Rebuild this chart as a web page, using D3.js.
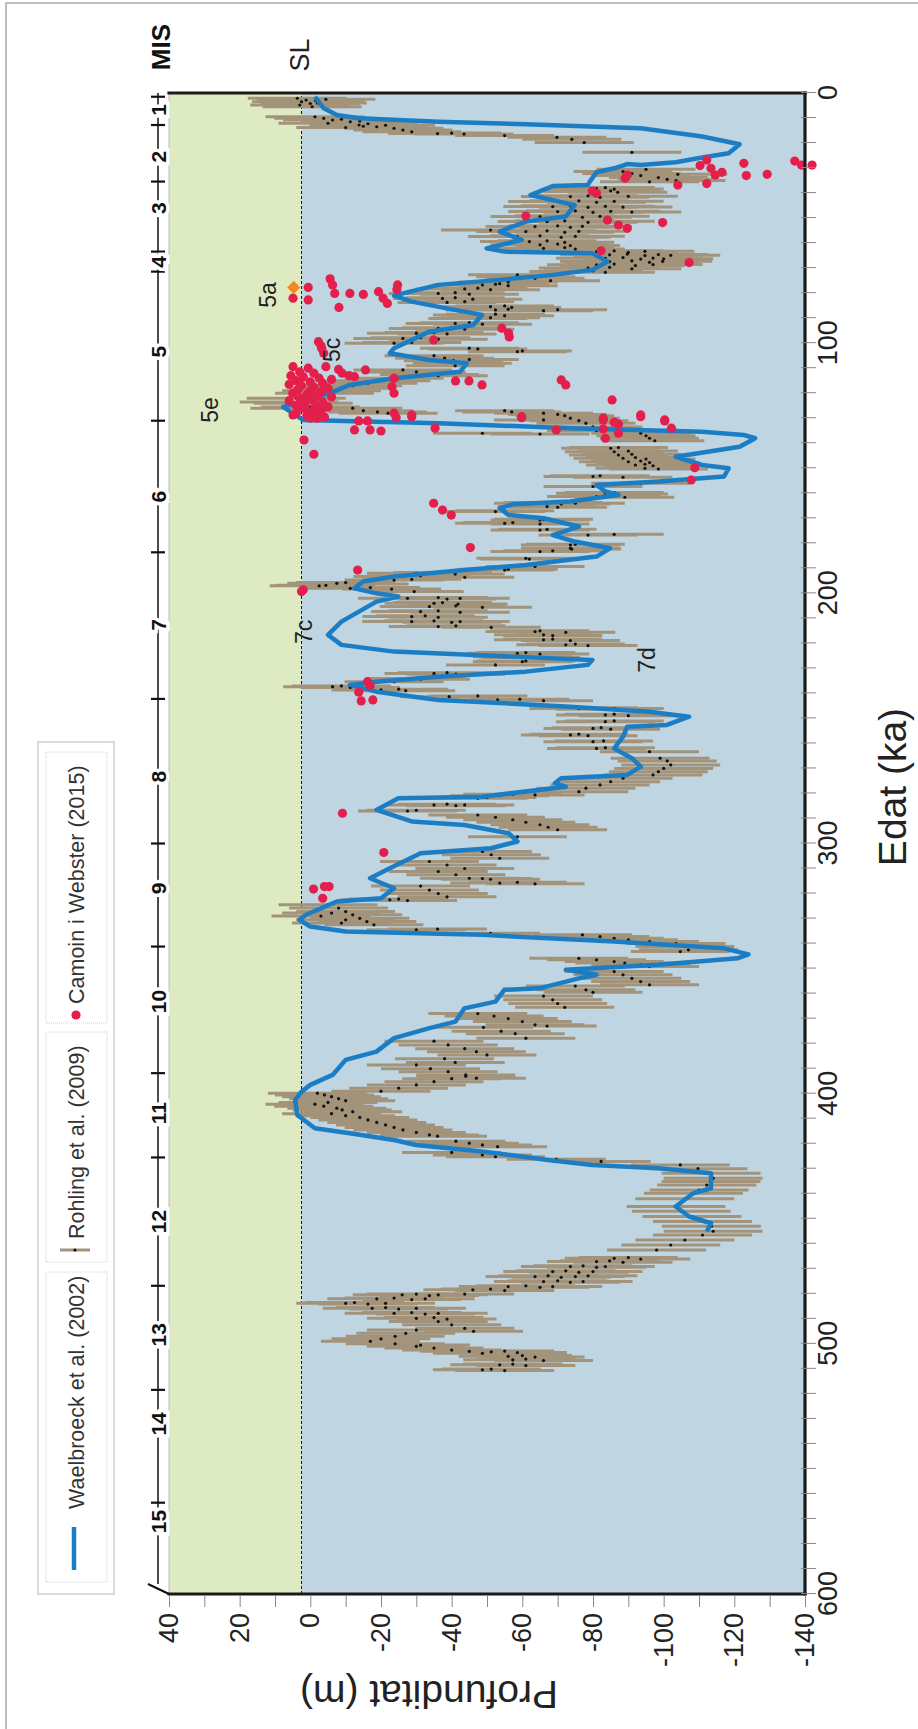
<!DOCTYPE html>
<html>
<head>
<meta charset="utf-8">
<script src="https://cdn.jsdelivr.net/npm/d3@7"></script>
<style>
  body { margin: 0; background: #fff; }
  text { font-family: "Liberation Sans", Arial, sans-serif; }
</style>
</head>
<body>
<svg id="chart"></svg>
<script>
// Waelbroeck et al. (2002) sea-level curve: [age ka, depth m]
const waelbroeck = [
  [1.5,-1.3],[6.1,-3.8],[8.8,-7.5],[10.1,-13.7],[11.5,-36.2],[12.5,-61],[14.1,-93.5],[17.4,-110.9],[20.5,-121.5],
  [24.1,-118.4],[25.8,-110.9],[27.7,-103.4],[28.8,-93.5],[28.4,-89.7],[30.1,-86],[31.7,-81],[35.4,-79.1],[36.8,-78.5],
  [37.2,-68.6],[40.8,-62.3],[42.8,-68.6],[44.8,-74.8],[49.4,-72.3],[51.4,-61],[55.4,-53.6],[58.7,-59.8],[62.1,-49.9],
  [63.4,-54.9],[64.1,-79.8],[67.4,-84.1],[70.7,-79.8],[72.7,-68.6],[74.7,-53.6],[76.7,-36.2],[80.1,-26.2],[81,-23.7],
  [83.4,-28.7],[86.1,-38.6],[88.7,-48.6],[92.7,-46.1],[95.4,-33.7],[102,-23.7],[104,-22.5],[106.7,-33.7],[108,-44.3],
  [111.4,-42.4],[114,-23.7],[116.7,-11.2],[120,-5.6],[125.5,7.7],[130.7,2.1],[132,-36.2],[134,-73.5],[135.4,-110.9],
  [136.7,-122.7],[138,-125.9],[141.4,-121.5],[145.4,-103.4],[148.7,-110.9],[150,-118.4],[153.3,-117.1],[155.3,-98.5],
  [156.7,-81],[159.3,-83.5],[160.7,-87.2],[163.3,-73.5],[164.4,-57.3],[166,-53.6],[168.7,-56.1],[170,-66.1],[173.3,-76],
  [176.7,-68.6],[179.3,-74.8],[182,-84.8],[185.3,-81],[188.7,-61],[190.7,-43.6],[193.3,-23.7],[195.3,-15],[198,-12.5],
  [200,-18.7],[201.3,-24.9],[203.3,-18.7],[211.3,-8.8],[216.6,-5],[220.6,-8.8],[223.3,-23.7],[225.3,-57.3],[226.6,-79.8],
  [228.6,-78.5],[231.3,-61],[233.3,-36.2],[235.3,-18.7],[236.6,-11.2],[239.3,-18.7],[242.6,-36.2],[245.3,-73.5],
  [247.3,-95.9],[249.3,-107.2],[252.6,-100.9],[253.3,-89.7],[257.3,-88.5],[262,-86],[265.9,-91],[269.3,-93.5],
  [272.6,-89.7],[273.9,-71],[275.9,-69.2],[277.3,-72.3],[281.3,-48.6],[281.9,-24.9],[286.6,-18.7],[291.2,-28.7],
  [292.6,-43.6],[295.9,-56.1],[299.2,-58.6],[301.9,-51.1],[303.9,-31.2],[309.9,-22.5],[313.9,-16.9],[317.9,-23.7],
  [321.9,-20],[323.2,-7.5],[328.5,1.2],[330.5,3.1],[333.2,0],[335.2,-10],[336.5,-48.6],[339.2,-86],[341.9,-117.1],
  [344.3,-124],[345.9,-120.9],[348.5,-98.5],[350.5,-72.3],[352.5,-81],[353.9,-76],[357.9,-64.8],[358.5,-54.9],
  [363.2,-52.4],[365.9,-43.6],[371.2,-41.1],[373.8,-33.7],[377.8,-23.7],[383.2,-18.7],[386.5,-10],[392.5,-6.3],
  [396.5,0],[399.2,2.5],[402.5,4.3],[408.5,3.7],[413.8,-1.3],[415.8,-11.2],[418.5,-23.7],[420.5,-29.9],[423.1,-48.6],
  [426.5,-67.3],[428.5,-79.8],[429.8,-98.5],[431.8,-113.4],[437.8,-113.4],[439.8,-108.4],[445.1,-103.4],[449.1,-107.2],
  [451.8,-113.4],[455.1,-112.2]
];

// Rohling et al. (2009) points: [age ka, depth m], drawn with +/- error bars
const rohling = [
  [2.1,3.7],[2.8,1.2],[3.5,2.5],[4.2,0],[4.8,3],[3.0,-1.5],[5.5,-0.5],[2.5,-4.4],[4.0,-2],
  [9.5,-1.3],[10.1,-3.8],[10.8,-6.3],[10.5,-8.8],[11.5,-11.3],[12.1,-5],[12.8,-13.8],[12.3,-16.3],[13.5,-18.8],
  [12.9,-21.3],[13.3,-15],[14.1,-23.7],[14.8,-26.2],[13.8,-10],[11.2,-14],
  [15.5,-28.7],[16.2,-36],[16,-40],[16.4,-43.5],[17,-55],[17.7,-69.8],[18.5,-74],[19.8,-77.5],[23.7,-91],
  [31.4,-88.5],[32.2,-91],[33,-93.5],[33.8,-98.5],[34.5,-101],[35,-103.5],[32.5,-104],[35.5,-96],[30.5,-95],
  [38.2,-81],[37.8,-83.5],[38.4,-86],[39.4,-80],[39.1,-85],[39.7,-87],[41.4,-73.6],[41.1,-78.6],[41.7,-82],[41.3,-90],
  [43.4,-70],[43.1,-76],[43.7,-81],[43.3,-86],[45.4,-68.6],[45.1,-73.6],[45.7,-78.6],[45.3,-83.5],[45.6,-88.5],
  [47.4,-70],[47.1,-75],[47.7,-80],[47.3,-85],[47.6,-91],[49.4,-65],[49.1,-72],[49.7,-77],[49.3,-82],
  [51.4,-67],[51.1,-72],[51.7,-78.6],[51.3,-83.5],[53.4,-63.6],[53.1,-70],[53.7,-73.6],[53.3,-77],
  [55.4,-61],[55.1,-67],[55.7,-72],[55.3,-76],[57.4,-58.6],[57.1,-65],[57.7,-71],[57.3,-75],
  [59.4,-62],[59.1,-67],[59.7,-72],[60.7,-65],[60.4,-70],[61,-73.6],[62.1,-66],[61.8,-72],[62.4,-75],[54.8,-51],
  [63.4,-81],[63.1,-86],[63.7,-90],[63.3,-94.7],[64.7,-84.7],[64.4,-89.7],[65,-94.7],[64.6,-98.5],[64.9,-102],
  [66.1,-83.5],[65.8,-88.5],[66.4,-93.5],[66,-97],[66.3,-100],[67.4,-84.7],[67.1,-91],[67.7,-96],[67.3,-99.7],
  [68.7,-81],[68.4,-86],[69,-92],[68.6,-97],[70,-78.6],[69.7,-84.7],[70.3,-91],[71.4,-76],[71.1,-80],[71.7,-83.5],
  [72.7,-58.6],[73.5,-61],[74.1,-63.6],[75,-68],[75.5,-56],[76.2,-53.6],
  [76.7,-48.7],[76.4,-52.4],[77,-56],[78.3,-43.7],[78,-47.4],[78.6,-51],[80.1,-36.2],[79.8,-41],[80.4,-45],
  [82.1,-37.4],[81.8,-41],[82.4,-46],[83.7,-38.7],[83.4,-43.7],[85.4,-51],[85.1,-55],[85.7,-57],
  [86.7,-52.4],[86.4,-56],[87,-66],[86.6,-70],[88.7,-48.7],[88.4,-52.4],[89,-55],[90.1,-47.4],[89.8,-51],
  [92.1,-41],[91.8,-45],[92.4,-48.7],[94.1,-36.2],[93.8,-40],[94.4,-43.7],[96,-30],[95.7,-35],[96.3,-38.7],
  [98.1,-26.2],[97.8,-31.2],[98.4,-36.2],[100,-23.7],[99.7,-28.7],[102,-45],[102.3,-47.4],[103.4,-58.6],[103.1,-60],
  [105,-35],[106,-38],[107,-40.5],[108,-43],[109,-41],[106.5,-45],
  [110.7,-26.2],[111.5,-30],[112.5,-33.7],[113,-36.2],
  [114,-23.7],[115,-20],[116,-16.3],[117,-12],[118,-9],[119,-6],[120,-4],
  [122,4],[123.5,6],[124,2],[125.5,0],[126,3],
  [126,-12],[127,-15],[127.5,-19],[128,-22],[127,-55],[127.5,-57],[128,-66],[128.5,-70],[129,-72],
  [130,-73.6],[131,-76],[132,-78],[133.5,-80],[135,-81],[136,-48.7],[136.3,-65],[130.7,-66],
  [136,-93.5],[137,-95],[138,-96],[139,-97.5],
  [142,-85],[141.7,-87.2],[143.4,-86],[143.1,-90],[144.7,-87.2],[144.4,-91],[146,-88.5],[145.7,-92],[146.3,-95],
  [147.4,-90],[147.1,-93.5],[147.7,-96],[148.7,-92],[148.4,-94.7],[149,-97],[150,-94.7],[150.3,-98.5],
  [153.3,-80],[153,-82],[153.6,-88.5],[156,-93.5],[157.3,-80],[160,-83.5],[159.7,-86],[160.3,-87.2],[161.3,-81],[161,-85],[161.6,-89],
  [164,-66],[163.7,-68.6],[164.3,-71],[164,-75],[165.3,-67],[165.6,-70],[167.3,-52.4],[167,-55],
  [170.7,-65],[170.4,-66],[172,-55],[171.7,-57.3],[172.3,-65],[174.7,-65],[174.4,-67],[176.7,-78.6],[176.4,-86],
  [180.7,-73.6],[180.4,-75],[182,-73.6],[182.3,-74],[183.3,-65],[183,-68.6],[186,-61],[186.3,-62],[189.3,-63.6],[190.7,-55],[190.4,-56],
  [192,-30],[191.7,-37.4],[192.3,-41],[193.3,-26.2],[193,-31.2],[193.6,-43.7],[194.7,-23.7],[194.4,-28.7],
  [196,-7.5],[195.7,-10],[196.3,-13.8],[197,-2.5],[196.8,-4.4],[198,-11.3],[197.7,-17],[198.3,-23],[199.3,-29.4],
  [202,-27.5],[201.7,-36.2],[202.3,-38.7],[202,-42.4],[204,-35],[203.7,-37.4],[204.3,-41.8],[205.3,-33.7],[205,-41.2],[205.6,-48.7],
  [207.3,-31.2],[207,-36.2],[207.6,-42.4],[209.3,-28.7],[209,-32.5],[209.6,-36.2],[211.3,-28.7],[211,-35],[211.6,-40],[211.3,-42.4],
  [213.3,-36.2],[213,-41.2],[213.6,-51.2],[215.3,-63.6],[215,-65],[215.6,-72.3],[216.6,-66],[216.9,-68.6],
  [218.6,-66],[218.3,-68.6],[218.9,-73.6],[220.6,-72.3],[220.3,-75],[220.9,-78.6],[224,-58.6],[223.7,-61],[224.3,-65],
  [225.3,-60],[225.6,-62.3],[227.3,-60],[227,-61],[228.6,-52.4],[232,-35],[231.7,-38.7],[232.3,-41.2],[234,-30],[234.3,-31.2],[235.3,-23.7],
  [237.3,-6.3],[237,-8.8],[237.6,-11.3],[238.6,-20],[238.3,-25],[238.9,-27],[241.3,-39.3],[241,-47.4],[242.6,-53],[242.3,-59.3],[242.9,-66],
  [246,-76],[245.7,-78.6],[246.3,-83.5],[246,-86],[248.6,-83.5],[248.3,-86],[248.9,-90],[251.3,-83.5],[251,-86],
  [254,-80],[253.7,-82.3],[254.3,-85],[256.6,-73.6],[256.3,-76],[256.9,-78.6],[259.3,-80],[259,-83],[262,-81],[261.7,-83.5],
  [263.3,-96],[265.9,-99],[267,-101],[268.6,-102],[270,-100],[271.3,-98.5],[272.6,-97],
  [273.9,-88.5],[275.3,-85],[276.6,-82],[277.9,-78],[279.3,-76],
  [280.6,-63.6],[280.3,-57.3],[280.9,-53.6],[281.9,-47.4],[281.6,-50],
  [284.6,-35],[284.3,-38.7],[284.9,-41.2],[284.6,-43.7],[287,-27.5],[286.7,-30],
  [288.6,-47.4],[289.5,-52.4],[290.5,-57.3],[291.5,-61],[292.5,-65],[293.5,-67.3],[294.5,-70],[297.3,-58.6],
  [303.2,-48.7],[304.5,-51.2],[305.9,-53.6],[307.2,-33.7],[308.6,-38.7],[310,-43.7],[311.2,-36.2],[312.5,-41.2],[313.9,-45],
  [314,-48.7],[314.3,-51],[315.8,-53.6],[315.5,-58.6],[316.1,-63.6],
  [317,-31.2],[318.6,-33.7],[320,-36.2],[321.3,-38.7],[322.5,-22.5],[322.2,-25],[322.8,-27.5],
  [324.5,-5],[325.8,-8],[327.2,-10],[328.5,-12],[329.9,-14],[331.2,-16],[332.5,-18],[330.5,-10],[327.8,-6],[329,-3],[331.8,-8.8],
  [334.5,-30],[334.2,-36],[335.9,-51],
  [336.5,-77],[337.2,-82],[337.9,-86],[338.5,-90],[339.2,-96],[340,-103.5],[341.2,-106],[342.5,-107],[343.2,-104.7],
  [345.9,-76],[346.5,-81],[347.2,-86],[347.8,-89],[348.5,-93.5],[349.2,-96],
  [351.2,-86],[352.5,-88.5],[353.9,-91],[355.2,-93.5],[356.5,-96],[357,-75],[358.5,-78],[359.5,-80],
  [361,-66],[362.5,-68.6],[364,-70],[365.5,-72],[368,-47.4],[369,-52],[370,-56],[371.2,-60],[372.5,-63.6],[373,-67],
  [373.5,-49],[375,-54],[376,-58],[377.8,-61],
  [379,-35],[380.5,-39],[382,-43.7],[383.2,-47],[384.5,-50],[386,-38],[387.5,-41],
  [388.5,-30],[390,-34],[391.2,-39],[392.5,-44],[393.8,-47],
  [393,-44],[394,-40],[395.2,-35],[396.5,-30],[397.8,-25],[399,-20],
  [399.8,-2],[400.5,-4],[401.2,-6],[402,-8],[402.8,-10],[403.5,-5],[404.2,-1.3],[405,-3.8],[405.8,-7.5],[406.5,-9],
  [407.2,-12],[408,-6],[408.8,-10],[409.5,-14],
  [410.5,-16.3],[411.5,-18.8],[412.5,-21.3],[413.5,-23.7],[414.5,-26.2],[415.5,-30],[416.5,-33.7],[417,-36],
  [419,-41.2],[419.8,-45],[420.5,-48.7],[421.2,-53],[423.5,-40],[424.5,-48.7],[425.2,-52.4],[426.2,-69.6],[427.1,-82.3],
  [428.5,-104.7],[430,-109.7],[431.8,-113.4],[433.8,-114],[435.1,-113.4],[436.5,-112.2],[438.5,-110],
  [439.8,-108.4],[442,-106],[445.1,-103.5],[447,-105],[449.1,-108],[451.1,-111],[453,-113.5],[455,-114],
  [456.5,-111],[458.5,-106],[460.5,-102],[462.5,-98],
  [465.8,-86],[465.5,-90],[466.1,-93.5],[467.1,-81],[466.8,-84.7],[467.4,-88.5],
  [469.1,-73.6],[468.8,-77.2],[469.4,-81],[469.1,-83.5],[471.1,-68.6],[470.8,-72.3],[471.4,-76],[471.1,-80],
  [473.1,-63.6],[472.8,-67.3],[473.4,-71],[473.1,-75],[472.8,-78.6],[475.1,-66],[474.8,-70],[475.4,-73.6],[475.1,-77.2],
  [477.1,-56],[476.8,-61],[477.4,-65],[477.1,-68.6],[478.4,-46],[478.1,-51],[478.7,-55],
  [480.4,-26],[480.1,-30],[480.7,-33.7],[480.4,-36.2],[480.1,-43.7],[482,-18.8],[481.7,-23.7],[482.3,-28.7],[482,-32.5],
  [483.8,-10],[483.5,-12.5],[484.1,-16.3],[483.8,-21.3],[485.8,-17.5],[485.5,-21.3],[486.1,-25],[485.8,-30],
  [487.8,-23.7],[487.5,-28.7],[488.1,-32.5],[487.8,-36.2],[489.8,-30],[489.5,-35],[490.1,-38.7],
  [491.1,-36.2],[492.4,-40],[493.8,-43.7],[495,-46.2],[494.5,-30],[495.8,-27],[497,-24],[498,-20],[499,-17],[500,-24],[501,-30],
  [500.5,-31.2],[501.7,-35],[502.5,-40],[503,-45],[503.8,-48.7],
  [503.2,-51.2],[502.9,-55],[503.5,-58.6],[505,-56],[504.7,-60],[505.3,-63.6],[506.4,-57.3],[506.1,-61],[506.7,-66],
  [508.4,-53.6],[508.1,-57.3],[508.7,-61],[510.4,-48.7],[510.1,-51.2],[510.7,-55]
];

// Camoin i Webster (2015) points: [age ka, depth m]
const camoin = [
  [26.8,-112.2],[29,-110.3],[30.1,-113.4],[31.7,-116.5],[32.8,-114.6],[28.1,-122.7],[33,-123.4],[32.5,-129.3],
  [27.2,-137.1],[28.8,-139],[28.8,-142],[36.2,-112.2],[36.8,-104],[32.8,-89.7],[34.1,-89.1],[39.2,-79.8],[40.1,-81],
  [49.2,-61],[50.8,-84.1],[52.8,-87.2],[54.1,-89.7],[51.8,-99.7],[63.1,-82.3],[67.8,-107.2],
  [74.3,-5.6],[76.7,-6.3],[80.1,-6.9],[77.7,0.6],[82.7,0.6],[82,4.9],[80.1,-11.2],[80.5,-15],[79.4,-19.3],[82,-20.6],
  [76.7,-24.7],[78.5,-24.5],[84.1,-21.8],[85.7,-8.1],
  [99.4,-2.3],[101,-3],[102,-3.2],[104,-3.8],[94,-54.2],[96,-56.1],[97.5,-56.3],[98.7,-34.9],
  [109.4,4.9],[110,0.6],[109.4,-4.4],[111.5,3],[112,-1],[113,5.5],[113.5,2],[114,-2.5],[114.5,-6],[115,4],[115.5,0],
  [116,-3.5],[116.5,6],[117,2.5],[117.5,-1],[118,-5],[118.5,3.5],[119,0],[119.5,-3],[120,5],[120.5,1],[121,-2],
  [121.5,-6],[122,3],[122.5,-0.5],[123,6],[123.5,-3.5],[124,1.5],[124.5,-1.5],[125,4],[125.5,-5],[126,2],[126.5,-1],
  [127,-3],[127.5,0.5],[128,4],[128.5,-2],[129,1],[129.5,-4],[130,0],[110.5,-8],[112,-9],[113,-11],
  [110.7,-15.6],[113.4,-12.5],[114,-23.7],[115.1,-41.1],[115.1,-44.9],[116.7,-48.6],[114.7,-71],[116.7,-72.3],
  [117.4,-23.1],[120,-23.7],[122.7,-85.4],[129.4,-59.8],[128,-23.7],[128.7,-28.7],[128.7,-93.5],[130.7,-100.3],[130,-82.9],
  [128.7,4.9],[130,-1.9],[131.1,-13.7],[131.1,-16.2],[134.7,-12.5],[134.7,-16.9],[135.1,-20],[129.8,-24.3],[129.4,-28.7],
  [134,-35.3],[129.8,-59.8],[134.7,-69.6],[130.7,-82.9],[134.3,-82.9],[138,-83.5],[131.6,-86],[132.4,-87.2],[136,-87.2],
  [129.4,-93.5],[131.1,-100.3],[134,-102.2],[149.8,-108.8],[154.7,-107.8],[138.7,1.8],[144.4,-1],
  [164,-34.9],[166.7,-37.4],[168.7,-39.9],[181.7,-45.3],[190.7,-13.4],[199.3,2.5],[198.6,2],
  [235.3,-16.2],[236.9,-16.9],[239.5,-13.7],[243,-14.4],[242.6,-17.7],
  [287.9,-9.1],[303.6,-20.8],[318.2,-0.9],[317.2,-4],[317.2,-5.3],[321.9,-3.5]
];

const substage5a = [[77.7, 4.7]];

// MIS stage boundaries (ka) and stage labels
const misBounds = [1.5, 12.8, 35.4, 63.4, 71.4, 131, 183.6, 242.2, 300, 341.2, 391.8, 425.5, 476.8, 518.4, 563.5];
const misLabels = [
  ["1",6.8],["2",25.4],["3",46],["4",67.5],["5",103.4],["6",161.3],["7",212.6],["8",273.3],
  ["9",317.9],["10",363.2],["11",407.8],["12",451.1],["13",496.4],["14",532],["15",571]
];
// substage labels: [text, age, depth]
const substages = [["5a",80.7,12],["5c",102.7,-6.1],["5e",126.7,28.4],["7c",215.4,1.8],["7d",226.6,-95.3]];

const seaLevel = 2.5;
const ageTicks = d3.range(0, 601, 10);
const depthTicks = d3.range(-140, 41, 10);

const W = 918, H = 1729;
const svg = d3.select("#chart").attr("width", W).attr("height", H);
svg.append("rect").attr("width", W).attr("height", H).attr("fill", "#fff");
svg.append("path").attr("d", `M6,${H} V3 H${W}`).attr("fill", "none").attr("stroke", "#aaa").attr("stroke-width", 1.5);

// the figure is drawn landscape and turned a quarter turn
const g = svg.append("g").attr("transform", `translate(0,${H}) rotate(-90)`);

const x = d3.scaleLinear().domain([600, 0]).range([135, 1636]);
const y = d3.scaleLinear().domain([40, -140]).range([169, 805]);

// backgrounds
g.append("rect").attr("x", x(600)).attr("y", y(40))
  .attr("width", x(0) - x(600)).attr("height", y(seaLevel) - y(40)).attr("fill", "#deeac2");
g.append("rect").attr("x", x(600)).attr("y", y(seaLevel))
  .attr("width", x(0) - x(600)).attr("height", y(-140) - y(seaLevel)).attr("fill", "#bfd5e1");
g.append("line").attr("x1", x(600)).attr("x2", x(0)).attr("y1", y(40)).attr("y2", y(40))
  .attr("stroke", "#bbb").attr("stroke-width", 1);

// sea level
g.append("line").attr("x1", x(600)).attr("x2", x(0)).attr("y1", y(seaLevel)).attr("y2", y(seaLevel))
  .attr("stroke", "#111").attr("stroke-width", 1).attr("stroke-dasharray", "3,2");

// Rohling error bars and points
g.append("g").selectAll("line").data(rohling).enter().append("line")
  .attr("x1", d => x(d[0])).attr("x2", d => x(d[0]))
  .attr("y1", d => y(d[1] + 14)).attr("y2", d => y(d[1] - 14))
  .attr("stroke", "#a3937a").attr("stroke-width", 3);
g.append("g").selectAll("circle").data(rohling).enter().append("circle")
  .attr("cx", d => x(d[0])).attr("cy", d => y(d[1])).attr("r", 1.6).attr("fill", "#111");

// Waelbroeck curve
g.append("path").datum(waelbroeck)
  .attr("d", d3.line().x(d => x(d[0])).y(d => y(d[1])))
  .attr("fill", "none").attr("stroke", "#1b7ec4").attr("stroke-width", 4.5)
  .attr("stroke-linejoin", "round");

// Camoin points
g.append("g").selectAll("circle").data(camoin).enter().append("circle")
  .attr("cx", d => x(d[0])).attr("cy", d => y(d[1])).attr("r", 4.6).attr("fill", "#e51f4c");

g.selectAll(".diamond").data(substage5a).enter().append("path").attr("class", "diamond")
  .attr("d", d3.symbol().type(d3.symbolDiamond2).size(110))
  .attr("transform", d => `translate(${x(d[0])},${y(d[1])})`)
  .attr("fill", "#ef8a1e");

// substage labels
g.append("g").selectAll("text").data(substages).enter().append("text")
  .attr("x", d => x(d[1])).attr("y", d => y(d[2])).attr("dy", "0.35em")
  .attr("text-anchor", "middle").attr("font-size", 23).attr("fill", "#222").text(d => d[0]);

// frame
const frame = [[x(600), y(40), x(600), y(-140)], [x(600), y(-140), x(0), y(-140)], [x(0), y(-140), x(0), y(40)]];
g.append("g").selectAll("line").data(frame).enter().append("line")
  .attr("x1", d => d[0]).attr("y1", d => d[1]).attr("x2", d => d[2]).attr("y2", d => d[3])
  .attr("stroke", "#1a1a1a").attr("stroke-width", 3.2).attr("stroke-linecap", "square");

// age axis
const ageAxis = g.append("g").attr("transform", `translate(0,${y(-140)})`)
  .call(d3.axisBottom(x).tickValues(ageTicks).tickSize(11).tickFormat(d => d % 100 === 0 ? String(d) : ""));
ageAxis.select(".domain").remove();
ageAxis.selectAll(".tick line").attr("y1", -4).attr("stroke", "#888");
ageAxis.selectAll(".tick text").attr("font-size", 27).attr("fill", "#222").attr("y", 0).attr("dy", "1.2em")
  .style("font-family", "'Liberation Sans', Arial, sans-serif");

// depth axis
const depthAxis = g.append("g").attr("transform", `translate(${x(600) - 1},0)`)
  .call(d3.axisLeft(y).tickValues(depthTicks).tickSize(12).tickFormat(d => d % 20 === 0 ? String(d) : ""));
depthAxis.select(".domain").remove();
depthAxis.selectAll(".tick line").attr("stroke", "#888");
depthAxis.selectAll(".tick text").attr("font-size", 27).attr("fill", "#222").attr("x", -18)
  .style("font-family", "'Liberation Sans', Arial, sans-serif");

// axis titles
g.append("text").attr("x", 942).attr("y", 892).attr("dy", "0.35em").attr("text-anchor", "middle")
  .attr("font-size", 39).attr("fill", "#222").text("Edat (ka)");
g.append("text").attr("transform", "translate(34,429) rotate(-90)").attr("dy", "0.35em")
  .attr("text-anchor", "middle").attr("font-size", 39).attr("fill", "#222").text("Profunditat (m)");

// MIS axis
const misV = 158;
g.append("line").attr("x1", x(596)).attr("x2", x(0)).attr("y1", misV).attr("y2", misV)
  .attr("stroke", "#111").attr("stroke-width", 1.5);
g.append("line").attr("x1", x(596)).attr("x2", x(600)).attr("y1", misV - 10).attr("y2", y(40))
  .attr("stroke", "#111").attr("stroke-width", 2);
g.append("g").selectAll("line").data(misBounds).enter().append("line")
  .attr("x1", d => x(d)).attr("x2", d => x(d)).attr("y1", misV - 7).attr("y2", misV + 7)
  .attr("stroke", "#111").attr("stroke-width", 2.2);
g.append("g").selectAll("text").data(misLabels).enter().append("text")
  .attr("x", d => x(d[1])).attr("y", misV).attr("dy", "0.36em").attr("text-anchor", "middle")
  .attr("font-size", 21).attr("font-weight", "bold").attr("fill", "#111")
  .attr("stroke", "#fff").attr("stroke-width", 7).style("paint-order", "stroke").text(d => d[0]);
g.append("text").attr("x", 1682).attr("y", 161).attr("dy", "0.35em").attr("text-anchor", "middle")
  .attr("font-size", 26).attr("font-weight", "bold").attr("fill", "#111").text("MIS");
g.append("text").attr("x", 1674).attr("y", 300).attr("dy", "0.35em").attr("text-anchor", "middle")
  .attr("font-size", 27).attr("fill", "#222").text("SL");

// legend
const lg = g.append("g");
lg.append("rect").attr("x", 135).attr("y", 38).attr("width", 852).attr("height", 76)
  .attr("fill", "#fff").attr("stroke", "#c4c4c4").attr("stroke-width", 1.2);
const legendBoxes = [[147, 457], [467, 697], [706, 977]];
lg.selectAll(".lbox").data(legendBoxes).enter().append("rect").attr("class", "lbox")
  .attr("x", d => d[0]).attr("y", 46).attr("width", d => d[1] - d[0]).attr("height", 61)
  .attr("fill", "none").attr("stroke", "#d0d0d0").attr("stroke-dasharray", "1,1");
lg.append("line").attr("x1", 159).attr("x2", 202).attr("y1", 74).attr("y2", 74)
  .attr("stroke", "#1b7ec4").attr("stroke-width", 4.5);
lg.append("line").attr("x1", 479).attr("x2", 479).attr("y1", 60).attr("y2", 90)
  .attr("stroke", "#a3937a").attr("stroke-width", 3);
lg.append("circle").attr("cx", 479).attr("cy", 75).attr("r", 1.6).attr("fill", "#111");
lg.append("circle").attr("cx", 714).attr("cy", 76).attr("r", 4.6).attr("fill", "#e51f4c");
const legendText = [["Waelbroeck et al. (2002)", 220], ["Rohling et al. (2009)", 490], ["Camoin i Webster (2015)", 725]];
lg.selectAll(".ltext").data(legendText).enter().append("text").attr("class", "ltext")
  .attr("x", d => d[1]).attr("y", 76).attr("dy", "0.35em").attr("font-size", 21.5).attr("fill", "#333").text(d => d[0]);
</script>
</body>
</html>
